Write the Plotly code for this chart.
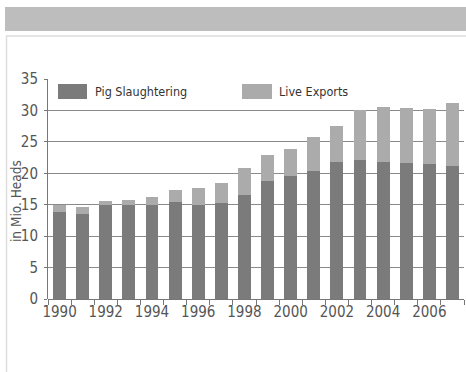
import plotly.graph_objects as go

years = list(range(1990, 2008))
slaughter = [13.8, 13.6, 15.0, 14.9, 15.0, 15.4, 14.9, 15.2, 16.6, 18.7, 19.5, 20.3, 21.8, 22.1, 21.8, 21.7, 21.4, 21.2]
totals = [14.9, 14.7, 15.6, 15.8, 16.2, 17.3, 17.7, 18.4, 20.8, 22.9, 23.9, 25.8, 27.5, 30.0, 30.5, 30.4, 30.3, 31.2]
exports = [round(t - s, 2) for t, s in zip(totals, slaughter)]
series_names = ["Pig Slaughtering", "Live Exports"]
x_tick_labels = [str(y) for y in range(1990, 2008, 2)]

DARK = "#7b7b7b"
LIGHT = "#ababab"
FONT = "Liberation Sans Narrow, DejaVu Sans Condensed, Roboto, sans-serif"

fig = go.Figure()
fig.add_trace(go.Bar(x=years, y=slaughter, name=series_names[0], marker=dict(color=DARK, line=dict(width=0)), showlegend=False))
fig.add_trace(go.Bar(x=years, y=exports, name=series_names[1], marker=dict(color=LIGHT, line=dict(width=0)), showlegend=False))

W, H = 466, 372
ML, MR, MT, MB = 48, 2, 79, 73
plot_w = W - ML - MR
plot_h = H - MT - MB

def px_x(px):
    return (px - ML) / plot_w

def px_y(py):
    return (H - MB - py) / plot_h

fig.update_layout(
    barmode="stack",
    bargap=0.44,
    width=W, height=H,
    margin=dict(l=ML, r=MR, t=MT, b=MB),
    paper_bgcolor="white",
    plot_bgcolor="white",
    font=dict(family=FONT, color="#555555"),
    xaxis=dict(
        range=[1989.5, 2007.5],
        tickvals=list(range(1990, 2008, 2)),
        ticktext=x_tick_labels,
        ticks="",
        showgrid=False,
        showline=False,
        zeroline=False,
        tickfont=dict(size=15, color="#555555"),
        ticklabelstandoff=2,
        minor=dict(ticks="outside", tick0=1989.5, dtick=1, ticklen=5, tickcolor="#777777", tickwidth=1, showgrid=False),
    ),
    yaxis=dict(
        range=[0, 35],
        dtick=5,
        showgrid=True,
        gridcolor="#8a8a8a",
        gridwidth=1,
        zeroline=True,
        zerolinecolor="#777777",
        zerolinewidth=1,
        showline=True,
        linecolor="#777777",
        linewidth=1,
        ticks="outside",
        ticklen=3,
        tickcolor="#777777",
        tickfont=dict(size=15, color="#555555"),
        ticklabelstandoff=3,
    ),
)

shapes = [
    dict(type="rect", xref="paper", yref="paper", x0=px_x(5), x1=px_x(470), y0=px_y(31), y1=px_y(7),
         fillcolor="#bdbdbd", line=dict(width=0)),
    dict(type="line", xref="paper", yref="paper", x0=px_x(6), x1=px_x(470), y0=px_y(36), y1=px_y(36),
         line=dict(color="#dddddd", width=1.5)),
    dict(type="line", xref="paper", yref="paper", x0=px_x(6.5), x1=px_x(6.5), y0=px_y(36), y1=px_y(380),
         line=dict(color="#dddddd", width=1.5)),
    dict(type="rect", xref="paper", yref="paper", x0=px_x(58), x1=px_x(87), y0=px_y(99), y1=px_y(84),
         fillcolor=DARK, line=dict(width=0)),
    dict(type="rect", xref="paper", yref="paper", x0=px_x(242), x1=px_x(272), y0=px_y(99), y1=px_y(84),
         fillcolor=LIGHT, line=dict(width=0)),
]
annotations = [
    dict(text=series_names[0], xref="paper", yref="paper", x=px_x(93), y=px_y(91.5), xanchor="left", yanchor="middle",
         showarrow=False, font=dict(family=FONT, size=12.5, color="#333333")),
    dict(text=series_names[1], xref="paper", yref="paper", x=px_x(277), y=px_y(91.5), xanchor="left", yanchor="middle",
         showarrow=False, font=dict(family=FONT, size=12.5, color="#333333")),
    dict(text="in Mio. Heads", xref="paper", yref="paper", x=px_x(16), y=px_y(201), xanchor="center", yanchor="middle",
         textangle=-90, showarrow=False, font=dict(family=FONT, size=13.5, color="#555555")),
]
fig.update_layout(shapes=shapes, annotations=annotations)

fig.write_html("out.html")
